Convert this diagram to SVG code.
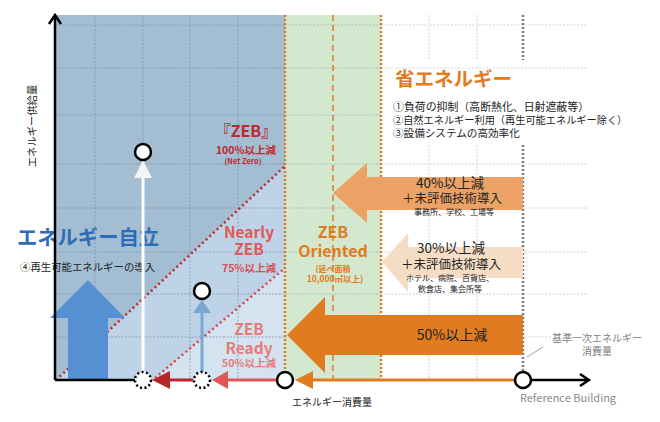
<svg xmlns="http://www.w3.org/2000/svg" width="660" height="422" viewBox="0 0 660 422">
<defs>
<style>
.jp{font-family:"Noto Sans CJK JP","Noto Sans",sans-serif}
.b{font-weight:700}
.gb{stroke:#8596aa;stroke-width:0.8;stroke-dasharray:2,1.5;fill:none}
.gg{stroke:#a9b5ad;stroke-width:0.8;stroke-dasharray:2,1.5;fill:none}
.gw{stroke:#c4c4c4;stroke-width:0.8;stroke-dasharray:2,1.5;fill:none}
.odot{stroke:#e07b20;stroke-width:2.5;stroke-dasharray:2,2;fill:none}
.odash{stroke:#e07b20;stroke-width:1.5;stroke-dasharray:6,4;fill:none}
.gdot{stroke:#7a7a7a;stroke-width:2.5;stroke-dasharray:2,2;fill:none}
.rdot{stroke-width:2.5;stroke-dasharray:2,3;fill:none}
.circ{fill:#fff;stroke:#000;stroke-width:2.5}
.dcirc{fill:#fff;stroke:#000;stroke-width:2.5;stroke-dasharray:2,2.5}
.ax{stroke:#000;stroke-width:2.5;fill:none}
.t{fill:#222}
</style>
</defs>
<rect width="660" height="422" fill="#fff"/>

<g id="regions">
<rect x="55" y="15" width="230" height="365" fill="#a3bdd2"/>
<polygon points="56,380 285,166 285,380" fill="#bed3e7"/>
<polygon points="153,380 285,268 285,380" fill="#d4e3f0"/>
<rect x="285" y="15" width="96" height="365" fill="#d3e8cf"/>
</g>

<g id="grid">
<g class="gb">
<path d="M55 25H285M55 68H285M55 115H285M55 164H285M55 208H285M55 252H285M55 294H285M55 337H285"/>
<path d="M95 15V380M143 15V380M190 15V380M238 15V380"/>
</g>
<g class="gg">
<path d="M285 25H381M285 68H381M285 115H381M285 164H381M285 208H381M285 252H381M285 294H381M285 337H381"/>
</g>
<g class="gw">
<path d="M381 25H588M381 68H588M381 164H588M381 208H588M381 252H588M381 294H588M381 337H552"/>
<path d="M429 15V60M429 145V380M477 15V60M477 145V380"/>
</g>
<path class="odash" d="M333 15V380"/>
<path class="odot" d="M285 15V372M381 15V380"/>
<path class="gdot" d="M523 15V60M523 145V372"/>
<line x1="527" y1="357" x2="543" y2="347" stroke="#888" stroke-width="0.8"/>
</g>

<g id="levels">
<line class="rdot" x1="56" y1="380" x2="285" y2="166" stroke="#c0282d"/>
<line class="rdot" x1="155" y1="378" x2="285" y2="268" stroke="#d64848"/>
</g>

<g id="arrow-40">
<polygon points="333,193 367,163 367,177 523,177 523,210 367,210 367,223" fill="#eca264"/>
<text class="jp t" x="450" y="188" font-size="13.5" text-anchor="middle">40%以上減</text>
<text class="jp t" x="452" y="203" font-size="12.5" text-anchor="middle">＋未評価技術導入</text>
<text class="jp t" x="454" y="215" font-size="8" text-anchor="middle">事務所、学校、工場等</text>
</g>

<g id="arrow-30">
<polygon points="382,262 408,233 408,247 523,247 523,278 408,278 408,292" fill="#f5dcc4"/>
<text class="jp t" x="451" y="253" font-size="13.5" text-anchor="middle">30%以上減</text>
<text class="jp t" x="451" y="269" font-size="12.5" text-anchor="middle">＋未評価技術導入</text>
<text class="jp t" x="450" y="281" font-size="8" text-anchor="middle">ホテル、病院、百貨店、</text>
<text class="jp t" x="450" y="292" font-size="8" text-anchor="middle">飲食店、集会所等</text>
</g>

<g id="arrow-50">
<polygon points="287,335 325,297 325,315 523,315 523,355 325,355 325,373" fill="#e07b20"/>
<text class="jp t" x="452" y="340" font-size="14" text-anchor="middle">50%以上減</text>
</g>

<g id="energy-saving">
<text class="jp b" x="395" y="86" font-size="19.5" fill="#e07b20">省エネルギー</text>
<text class="jp t" x="393" y="111" font-size="10.9">①負荷の抑制（高断熱化、日射遮蔽等）</text>
<text class="jp t" x="393" y="124" font-size="10.2">②自然エネルギー利用（再生可能エネルギー除く）</text>
<text class="jp t" x="393" y="137" font-size="10.6">③設備システムの高効率化</text>
</g>

<g id="self-sufficient">
<polygon points="50,318 68,318 68,380 108,380 108,318 125,318 88,280" fill="#5590d3"/>
<text class="jp b" x="17" y="245" font-size="20.3" fill="#2e6cb5">エネルギー自立</text>
<text class="jp t" x="20" y="271" font-size="10.4">④再生可能エネルギーの導入</text>
</g>

<g id="zeb">
<text class="jp b" x="246" y="137" font-size="16" fill="#c0282d" text-anchor="middle">『ZEB』</text>
<text class="jp b" x="246" y="154" font-size="10.5" fill="#c0282d" text-anchor="middle">100%以上減</text>
<text class="jp b" x="243" y="164" font-size="7.5" fill="#c0282d" text-anchor="middle">(Net Zero)</text>
</g>

<g id="nearly-zeb">
<text class="jp b" x="249" y="238" font-size="15.5" fill="#e05858" text-anchor="middle">Nearly</text>
<text class="jp b" x="249" y="255" font-size="15.5" fill="#e05858" text-anchor="middle">ZEB</text>
<text class="jp b" x="249" y="272" font-size="10.5" fill="#d94e4e" text-anchor="middle">75%以上減</text>
</g>

<g id="zeb-ready">
<text class="jp b" x="249" y="335" font-size="15.5" fill="#e87a7a" text-anchor="middle">ZEB</text>
<text class="jp b" x="249" y="354" font-size="15.5" fill="#e87a7a" text-anchor="middle">Ready</text>
<text class="jp b" x="249" y="367" font-size="10.5" fill="#e87a7a" text-anchor="middle">50%以上減</text>
</g>

<g id="zeb-oriented">
<text class="jp b" x="333" y="238" font-size="16" fill="#e07b20" text-anchor="middle">ZEB</text>
<text class="jp b" x="333" y="257" font-size="16" fill="#e07b20" text-anchor="middle">Oriented</text>
<text class="jp b" x="333" y="272" font-size="8" fill="#e07b20" text-anchor="middle">(延べ面積</text>
<text class="jp b" x="335" y="282" font-size="8.5" fill="#e07b20" text-anchor="middle">10,000㎡以上)</text>
</g>

<g id="axes">
<path class="ax" d="M55 380V16M49 24L55 15L61 24"/>
<path class="ax" d="M531 380H588M580 374L589 380L580 386"/>
<path class="ax" d="M55 380H135"/>
<text class="jp t" x="0" y="0" font-size="10.3" text-anchor="middle" transform="translate(36,126) rotate(-90)">エネルギー供給量</text>
<text class="jp t" x="332" y="406" font-size="10" text-anchor="middle">エネルギー消費量</text>
<text class="jp" x="568" y="402" font-size="11" fill="#8a8a8a" text-anchor="middle">Reference Building</text>
<text class="jp" x="597" y="342" font-size="10" fill="#808080" text-anchor="middle">基準一次エネルギー</text>
<text class="jp" x="597" y="355" font-size="10" fill="#808080" text-anchor="middle">消費量</text>
</g>

<g id="connectors">
<line x1="313" y1="380" x2="514" y2="380" stroke="#e07b20" stroke-width="3"/>
<polygon points="295,380 313,371 313,389" fill="#e07b20"/>
<line x1="228" y1="380" x2="277" y2="380" stroke="#e05555" stroke-width="3"/>
<polygon points="212,380 228,371 228,389" fill="#e05555"/>
<line x1="170" y1="380" x2="193" y2="380" stroke="#b8242a" stroke-width="3"/>
<polygon points="152,380 170,371 170,389" fill="#b8242a"/>
<line x1="143" y1="372" x2="143" y2="178" stroke="#fff" stroke-width="3"/>
<polygon points="134,178 152,178 143,160" fill="#f4f4f4"/>
<line x1="202" y1="372" x2="202" y2="313" stroke="#7aa7d2" stroke-width="3"/>
<polygon points="193,313 211,313 202,300" fill="#7aa7d2"/>
</g>

<g id="points">
<circle class="circ" cx="143" cy="152" r="8"/>
<circle class="circ" cx="202" cy="291" r="8"/>
<circle class="dcirc" cx="143" cy="380" r="8"/>
<circle class="dcirc" cx="202" cy="380" r="8"/>
<circle class="circ" cx="285" cy="380" r="8"/>
<circle class="circ" cx="523" cy="380" r="8"/>
</g>
</svg>
